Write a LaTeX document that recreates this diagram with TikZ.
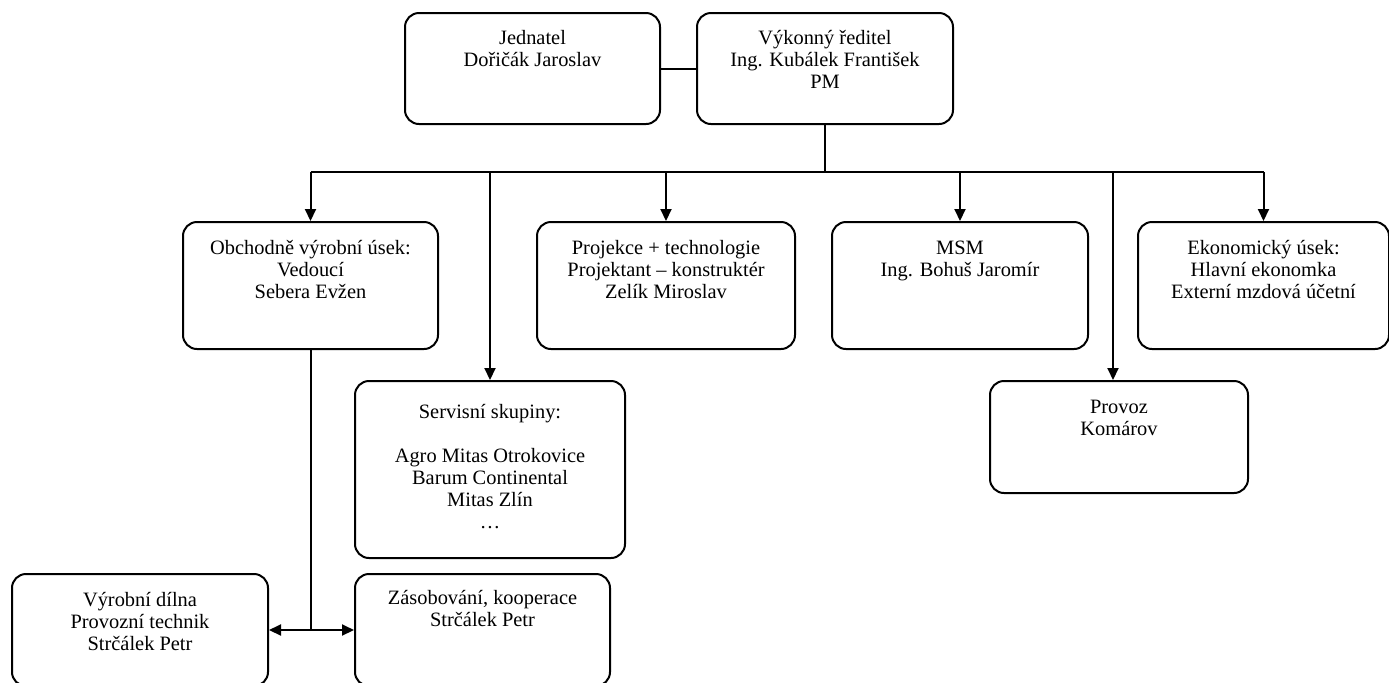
\documentclass[tikz,border=0pt]{standalone}
\usepackage{fontspec}
\setmainfont{Liberation Serif}
\usetikzlibrary{arrows.meta}

\begin{document}
\begin{tikzpicture}[x=0.5pt,y=-0.5pt,
    box/.style={draw, line width=1pt, rounded corners=7pt, align=center,
      anchor=north, inner sep=0pt, font=\fontsize{10.2}{11}\selectfont},
    arr/.style={line width=1pt, -{Triangle[length=6pt,width=5.5pt]}},
    link/.style={line width=1pt}]
    \useasboundingbox (0,0) rectangle (1389,682);

    % Top boxes
    \node[box, minimum width=127.5pt, text height=26.5pt, text depth=29pt] (jed) at (532.5,12)
      {Jednatel\\Dořičák Jaroslav};
    \node[box, minimum width=128pt, text height=37.5pt, text depth=18pt] (ved) at (825,12)
      {Výkonný ředitel\\Ing. Kubálek František\\PM};

    % Second row
    \node[box, minimum width=127.5pt, text height=38pt, text depth=25.5pt] (obch) at (310.5,221)
      {Obchodně výrobní úsek:\\Vedoucí\\Sebera Evžen};
    \node[box, minimum width=129pt, text height=38pt, text depth=25.5pt] (proj) at (666,221)
      {Projekce + technologie\\Projektant – konstruktér\\Zelík Miroslav};
    \node[box, minimum width=128pt, text height=27pt, text depth=36.5pt] (msm) at (960,221)
      {MSM\\Ing. Bohuš Jaromír};
    \node[box, minimum width=125.5pt, text height=38pt, text depth=25.5pt] (eko) at (1263.5,221)
      {Ekonomický úsek:\\Hlavní ekonomka\\Externí mzdová účetní};

    % Lower boxes
    \node[box, minimum width=135pt, text height=73.5pt, text depth=15pt] (serv) at (490,380)
      {Servisní skupiny:\\[11pt]Agro Mitas Otrokovice\\Barum Continental\\Mitas Zlín\\…};
    \node[box, minimum width=129pt, text height=27pt, text depth=29pt] (prov) at (1119,380)
      {Provoz\\Komárov};
    \node[box, minimum width=128pt, text height=38pt, text depth=18pt] (vyr) at (140,573)
      {Výrobní dílna\\Provozní technik\\Strčálek Petr};
    \node[box, minimum width=127.5pt, text height=26pt, text depth=30pt] (zas) at (482.5,573)
      {Zásobování, kooperace\\Strčálek Petr};

    % Define coordinates
    \coordinate (bus) at (825,172);
    \coordinate (join) at (obch.south |- vyr.east);
    \coordinate (provtop) at ([xshift=-3pt]prov.north);

    % Draw lines
    \draw[link] (jed.east) -- (ved.west);
    \draw[link] (ved.south) -- (bus);
    \draw[link] (obch.north |- bus) -- (eko.north |- bus);
    \foreach \n in {obch,serv,proj,msm,eko}
      \draw[arr] (\n.north |- bus) -- (\n.north);
    \draw[arr] (provtop |- bus) -- (provtop);
    \draw[link] (obch.south) -- (join);
    \draw[arr] (join) -- (vyr.east);
    \draw[arr] (join) -- (zas.west);
  \end{tikzpicture}
\end{document}
